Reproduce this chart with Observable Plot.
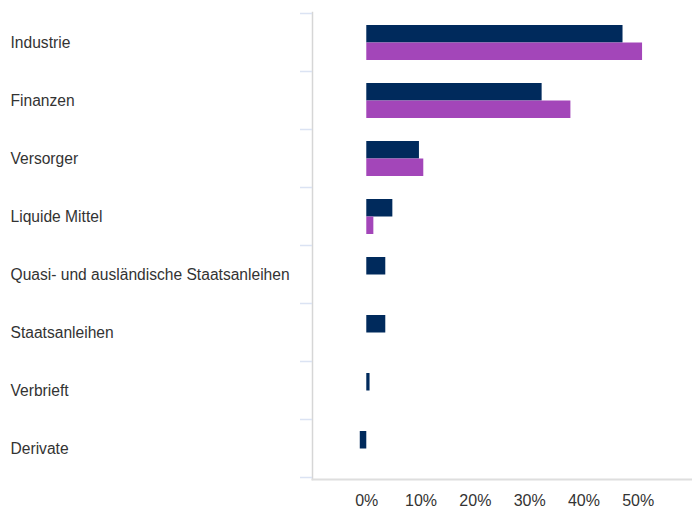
<!DOCTYPE html>
<html>
<head>
<meta charset="utf-8">
<script src="https://cdn.jsdelivr.net/npm/d3@7"></script>
<script src="https://cdn.jsdelivr.net/npm/@observablehq/plot@0.6"></script>
<style>
  html, body { margin: 0; padding: 0; background: #fff; }
  #chart { width: 692px; height: 508px; }
  svg { font-family: "Liberation Sans", Arial, Helvetica, sans-serif; }
  svg g.yaxis text { font-size: 15.6px; }
  svg g.xaxis text { font-size: 16px; }
</style>
</head>
<body>
<div id="chart"></div>
<script>
const categories = [
  "Industrie",
  "Finanzen",
  "Versorger",
  "Liquide Mittel",
  "Quasi- und ausländische Staatsanleihen",
  "Staatsanleihen",
  "Verbrieft",
  "Derivate"
];
const fundValues = [47.2, 32.3, 9.7, 4.8, 3.5, 3.5, 0.6, -1.2];
const benchmarkValues = [50.8, 37.6, 10.5, 1.3, null, null, null, null];
const xTicks = [0, 10, 20, 30, 40, 50];
const xDomain = [-10, 60];

const navy = "#002a5c";
const purple = "#a346b9";

const fundData = categories.map((c, i) => ({category: c, value: fundValues[i]}));
const benchData = categories
  .map((c, i) => ({category: c, value: benchmarkValues[i]}))
  .filter(d => d.value != null);

const bandwidthHalf = 17.5;

const chart = Plot.plot({
  width: 692,
  height: 508,
  marginLeft: 312,
  marginRight: 0,
  marginTop: 12,
  marginBottom: 29,
  style: {color: "#333", fontFamily: "'Liberation Sans', Arial, sans-serif", background: "#fff"},
  x: {domain: xDomain, label: null},
  y: {domain: categories, paddingInner: 0.4, paddingOuter: 0.2, label: null},
  marks: [
    Plot.barX(fundData, {x: "value", y: "category", fill: navy, insetBottom: bandwidthHalf}),
    Plot.barX(benchData, {x: "value", y: "category", fill: purple, insetTop: bandwidthHalf}),
    Plot.frame({anchor: "left", stroke: "#d6d6d6", strokeWidth: 1.5}),
    Plot.frame({anchor: "bottom", stroke: "#dedede", strokeWidth: 2}),
    Plot.axisX({ticks: xTicks, tickFormat: d => d + "%", tickSize: 0, tickPadding: 15, fill: "#333", label: null, className: "xaxis"}),
    Plot.axisY({tickSize: 0, tickPadding: 0, textAnchor: "start", dx: -302, fill: "#333", label: null, className: "yaxis"})
  ]
});

document.getElementById("chart").appendChild(chart);

// category boundary ticks on the left of the vertical axis, from the y scale
const ys = chart.scale("y");
const xs = chart.scale("x");
const step = ys.step, bw = ys.bandwidth;
const gap = (step - bw) / 2;
const boundaries = categories.map(c => ys.apply(c) - gap);
boundaries.push(ys.apply(categories[categories.length - 1]) + bw + gap);
const x0 = xs.apply(xDomain[0]);
const g = d3.select(chart).append("g").attr("stroke", "#dbe3f3").attr("stroke-width", 1.5);
boundaries.forEach(y => {
  g.append("line").attr("x1", x0 - 12).attr("x2", x0).attr("y1", y).attr("y2", y);
});
</script>
</body>
</html>
